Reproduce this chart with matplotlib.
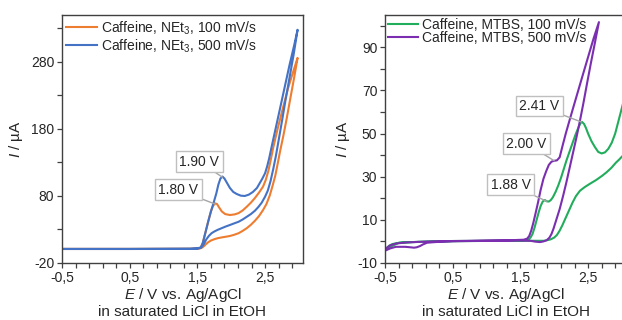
import matplotlib
matplotlib.use('Agg')
import matplotlib.pyplot as plt
from matplotlib.ticker import FixedLocator, MultipleLocator

plt.rcParams['font.family'] = ['Liberation Sans', 'DejaVu Sans']
plt.rcParams['mathtext.fontset'] = 'custom'
plt.rcParams['mathtext.rm'] = 'Liberation Sans'
plt.rcParams['mathtext.it'] = 'Liberation Sans:italic'

# ---------------- data: left panel (NEt3) ----------------
net3_100_E = [-0.5, 0.5, 1.4, 1.5, 1.55, 1.58, 1.62, 1.66, 1.70, 1.73, 1.76, 1.79, 1.82, 1.86,
              1.91, 1.98, 2.05, 2.11, 2.17, 2.23, 2.29, 2.35, 2.41, 2.47, 2.51, 2.55, 2.58,
              2.62, 2.68, 2.76, 2.84, 2.92, 2.98,
              2.93, 2.87, 2.82, 2.77, 2.72, 2.68, 2.65, 2.61, 2.57, 2.52, 2.47, 2.41, 2.35,
              2.29, 2.23, 2.17, 2.11, 2.04, 1.98, 1.92, 1.86, 1.80, 1.75, 1.70, 1.66, 1.62,
              1.59, 1.56, 1.52, 1.45, 0.5, -0.5]
net3_100_I = [1.0, 1.0, 1.2, 2.0, 3.0, 10, 26, 42, 57, 65, 69, 68, 63, 57,
              53, 51.6, 52.5, 54.5, 58.5, 64, 70, 77, 85, 94, 104, 118, 132,
              152, 178, 210, 241, 267, 286,
              257, 224, 196, 170, 146, 125, 110, 95, 81, 68, 59, 50, 43,
              37, 32, 28, 24.5, 22, 20.3, 19.2, 18.2, 17, 15.5, 13.5, 11, 7.5,
              4.5, 2.5, 1.4, 1.0, 0.9, 0.9]

net3_500_E = [-0.5, 0.5, 1.4, 1.5, 1.55, 1.58, 1.62, 1.66, 1.70, 1.74, 1.78, 1.81, 1.84, 1.87,
              1.90, 1.94, 1.98, 2.03, 2.08, 2.14, 2.20, 2.26, 2.32, 2.38, 2.42, 2.46, 2.50,
              2.53, 2.56, 2.60, 2.65, 2.70, 2.78, 2.86, 2.93, 2.98,
              2.92, 2.86, 2.80, 2.75, 2.70, 2.66, 2.62, 2.58, 2.54, 2.50, 2.45, 2.40, 2.35,
              2.29, 2.23, 2.17, 2.11, 2.04, 1.98, 1.92, 1.86, 1.80, 1.75, 1.71, 1.67, 1.63,
              1.60, 1.57, 1.54, 1.48, 0.5, -0.5]
net3_500_I = [1.0, 1.0, 1.2, 2.0, 3.0, 10, 26, 42, 57, 70, 84, 97, 106, 109,
              106, 99, 92, 86, 83, 80.5, 80, 82, 86, 92, 99, 106, 114,
              124, 136, 155, 178, 201, 238, 275, 305, 328,
              290, 256, 222, 192, 163, 140, 120, 102, 88, 79, 70, 63.5, 58,
              53, 49, 45, 41.6, 39, 36.7, 34.5, 32, 29.5, 27, 24.5, 20.5, 15,
              9, 4.5, 2.2, 1.2, 0.9, 0.9]

# ---------------- data: right panel (MTBS) ----------------
mtbs_100_E = [-0.5, -0.44, -0.39, -0.29, -0.1, 0.5, 1.2, 1.55, 1.62, 1.65, 1.68, 1.71, 1.74, 1.77,
              1.80, 1.83, 1.86, 1.89, 1.92, 1.95, 1.98, 2.02, 2.06, 2.10, 2.14, 2.18, 2.23,
              2.28, 2.32, 2.36, 2.39, 2.41, 2.44, 2.47, 2.50, 2.55, 2.60, 2.65, 2.70, 2.75,
              2.80, 2.85, 2.90, 2.95, 3.00, 3.08,
              3.08, 2.96, 2.91, 2.84, 2.77, 2.71, 2.62, 2.53, 2.45, 2.38, 2.32, 2.27, 2.22,
              2.17, 2.12, 2.08, 2.04, 2.00, 1.95, 1.90, 1.85, 1.7, 1.2, 0.5, 0.0, -0.2, -0.3,
              -0.39, -0.45, -0.5]
mtbs_100_I = [-4.0, -2.0, -1.2, -0.6, -0.3, 0.1, 0.3, 0.6, 1.0, 1.8, 3.5, 6.5, 10, 13.5,
              16.5, 18.5, 19.2, 18.6, 18.5, 19.2, 20.5, 23, 26, 29.5, 33.5, 37.5, 42,
              46.5, 50, 53, 55, 55.4, 54.5, 52.5, 50, 46.5, 43.8, 41.5, 40.8, 41.3,
              43, 45.8, 50, 56, 62, 72,
              42, 38, 36.5, 34, 32, 30.5, 28.5, 26.8, 25.2, 23.5, 21, 18, 14.5,
              11, 7.5, 5, 3, 1.8, 1.0, 0.6, 0.3, 0.3, 0.3, 0.2, -0.2, -0.4, -0.7,
              -2.0, -3.0, -4.3]

mtbs_500_E = [-0.5, -0.42, -0.34, -0.2, 0.0, 0.3, 0.8, 1.3, 1.55, 1.60, 1.63, 1.66, 1.69, 1.72,
              1.76, 1.80, 1.84, 1.88, 1.92, 1.96, 2.00, 2.04, 2.08, 2.12, 2.17, 2.22, 2.28,
              2.35, 2.42, 2.50, 2.58, 2.66,
              2.60, 2.54, 2.48, 2.43, 2.38, 2.33, 2.28, 2.23, 2.18, 2.13, 2.08, 2.03, 1.99,
              1.96, 1.93, 1.89, 1.84, 1.79, 1.72, 1.65, 1.50, 1.0, 0.5, 0.29, 0.20, 0.12,
              0.06, 0.02, -0.03, -0.07, -0.13, -0.20, -0.27, -0.34, -0.42, -0.5]
mtbs_500_I = [-3.5, -1.8, -1.0, -0.5, -0.2, 0.1, 0.3, 0.5, 0.8, 1.3, 2.5, 5, 8.5, 12.5,
              18, 24, 29, 32.5, 35.5, 37, 37.4, 37.6, 39, 44, 50, 55.5, 62,
              69.5, 77, 85.5, 94, 101.7,
              92, 82.5, 72.5, 64, 56, 48.5, 41.5, 34.5, 27.5, 21, 15, 10, 6,
              3.5, 1.8, 0.6, 0.0, -0.3, -0.1, 0.3, 0.4, 0.3, 0.1, -0.2, -0.4, -0.6,
              -1.4, -2.1, -2.7, -2.9, -2.7, -2.5, -2.5, -2.5, -3.2, -4.3]

# annotations: (text, peak E, peak I, label E, label I)
left_notes = [("1.90 V", 1.87, 108, 1.53, 131), ("1.80 V", 1.76, 68, 1.22, 89)]
right_notes = [("2.41 V", 2.40, 55.4, 1.78, 62.8), ("2.00 V", 2.00, 37.4, 1.59, 45.4),
               ("1.88 V", 1.89, 18.6, 1.36, 26.2)]

labels_left = ["Caffeine, NEt$_3$, 100 mV/s", "Caffeine, NEt$_3$, 500 mV/s"]
labels_right = ["Caffeine, MTBS, 100 mV/s", "Caffeine, MTBS, 500 mV/s"]
x_major = [-0.5, 0.5, 1.5, 2.5]
x_major_labels = ["-0,5", "0,5", "1,5", "2,5"]
yl_major = [-20, 80, 180, 280]
yr_major = [-10, 10, 30, 50, 70, 90]

C_ORANGE = '#ED7D31'
C_BLUE = '#4472C4'
C_GREEN = '#22AD5C'
C_PURPLE = '#7B2FB0'
TXT = '#262626'
SPINE = '#404040'

fig = plt.figure(figsize=(6.22, 3.2), dpi=100)
axL = fig.add_axes([62/622, 1-263/320, 241/622, 248/320])
axR = fig.add_axes([385/622, 1-263/320, 241/622, 248/320])


def style(ax, ymaj, ymin_step, ylim):
    ax.set_xlim(-0.5, 3.06)
    ax.set_ylim(*ylim)
    ax.xaxis.set_major_locator(FixedLocator(x_major))
    ax.set_xticklabels(x_major_labels)
    ax.xaxis.set_minor_locator(MultipleLocator(0.2, offset=-0.5 % 0.2))
    ax.yaxis.set_major_locator(FixedLocator(ymaj))
    ax.set_yticklabels([str(v) for v in ymaj])
    ax.yaxis.set_minor_locator(MultipleLocator(ymin_step, offset=ymaj[0] % ymin_step))
    ax.tick_params(which='both', direction='out', length=3.5, width=0.9, color=SPINE,
                   labelsize=10, labelcolor=TXT, pad=2)
    for s in ax.spines.values():
        s.set_color(SPINE)
        s.set_linewidth(1.0)
    ax.set_xlabel("$\\it{E}$ / V vs. Ag/AgCl\nin saturated LiCl in EtOH", fontsize=11,
                  color=TXT, labelpad=1, linespacing=1.05)
    ax.set_ylabel("$\\it{I}$ / µA", fontsize=11, color=TXT, labelpad=4)


style(axL, yl_major, 50, (-20, 350))
style(axR, yr_major, 10, (-10, 105))

axL.plot(net3_100_E, net3_100_I, color=C_ORANGE, lw=1.5, label=labels_left[0])
axL.plot(net3_500_E, net3_500_I, color=C_BLUE, lw=1.5, label=labels_left[1])
axR.plot(mtbs_100_E, mtbs_100_I, color=C_GREEN, lw=1.5, label=labels_right[0])
axR.plot(mtbs_500_E, mtbs_500_I, color=C_PURPLE, lw=1.5, label=labels_right[1])

for ax, sp, bap in ((axL, 0.05, 0.1), (axR, -0.05, 0.0)):
    leg = ax.legend(loc='upper left', frameon=False, fontsize=10, handlelength=2.2,
                    handletextpad=0.3, labelspacing=sp, borderaxespad=bap,
                    borderpad=0.2)
    for t in leg.get_texts():
        t.set_color(TXT)


def notes(ax, items):
    for txt, px, py, lx, ly in items:
        ax.annotate(txt, xy=(px, py), xytext=(lx, ly), ha='center', va='center',
                    fontsize=10, color=TXT,
                    bbox=dict(boxstyle='square,pad=0.25', fc='white', ec='#BFBFBF', lw=1.0),
                    arrowprops=dict(arrowstyle='-', color='#A6A6A6', lw=1.0,
                                    shrinkA=0, shrinkB=0))


notes(axL, left_notes)
notes(axR, right_notes)

fig.savefig('out.png', dpi=100)
